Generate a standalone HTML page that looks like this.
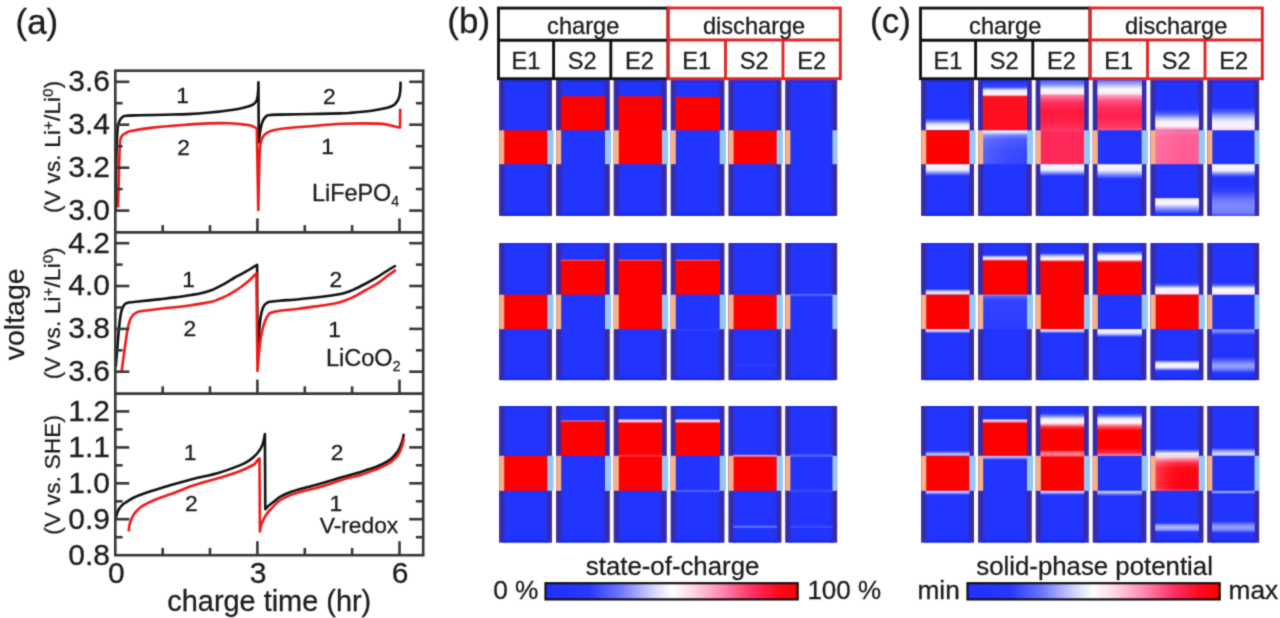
<!DOCTYPE html>
<html><head><meta charset="utf-8"><style>
html,body{margin:0;padding:0;background:#fff;}
svg{display:block;}
text{font-family:"Liberation Sans", sans-serif;fill:#1c1c1c;stroke:#1c1c1c;stroke-width:0.3px;}
</style></head><body>
<svg width="1280" height="618" viewBox="0 0 1280 618">
<defs><filter id="soft" x="0" y="0" width="1280" height="618" filterUnits="userSpaceOnUse" color-interpolation-filters="sRGB"><feConvolveMatrix order="3" kernelMatrix="1 4 1 4 16 4 1 4 1" divisor="36" edgeMode="duplicate"/></filter></defs>
<g filter="url(#soft)">
<rect width="1280" height="618" fill="#fff"/>
<path d="M115.70,210.00 C115.80,201.67 116.00,173.33 116.30,160.00 C116.60,146.67 116.97,136.50 117.50,130.00 C118.03,123.50 118.75,123.08 119.50,121.00 C120.25,118.92 120.92,118.37 122.00,117.50 C123.08,116.63 123.00,116.17 126.00,115.80 C129.00,115.43 133.50,115.48 140.00,115.30 C146.50,115.12 157.05,114.90 165.00,114.70 C172.95,114.50 180.20,114.47 187.70,114.10 C195.20,113.73 202.65,113.18 210.00,112.50 C217.35,111.82 225.73,110.92 231.80,110.00 C237.87,109.08 242.75,107.98 246.40,107.00 C250.05,106.02 252.00,105.18 253.70,104.10 C255.40,103.02 255.92,102.02 256.60,100.50 C257.28,98.98 257.52,97.08 257.80,95.00 C258.08,92.92 258.20,90.12 258.30,88.00 C258.40,85.88 258.38,83.25 258.40,82.30 L258.80,142.50 C258.92,141.42 259.13,138.58 259.50,136.00 C259.87,133.42 260.42,129.58 261.00,127.00 C261.58,124.42 262.25,122.17 263.00,120.50 C263.75,118.83 264.58,117.88 265.50,117.00 C266.42,116.12 266.08,115.60 268.50,115.20 C270.92,114.80 272.80,114.80 280.00,114.60 C287.20,114.40 301.70,114.20 311.70,114.00 C321.70,113.80 333.62,113.58 340.00,113.40 C346.38,113.22 344.70,113.35 350.00,112.90 C355.30,112.45 365.73,111.50 371.80,110.70 C377.87,109.90 382.75,109.02 386.40,108.10 C390.05,107.18 391.88,106.35 393.70,105.20 C395.52,104.05 396.33,102.73 397.30,101.20 C398.27,99.67 399.00,97.87 399.50,96.00 C400.00,94.13 400.12,92.40 400.30,90.00 C400.48,87.60 400.55,83.00 400.60,81.60" fill="none" stroke="#111" stroke-width="2.6" stroke-linejoin="round" stroke-linecap="butt"/>
<path d="M118.00,207.50 C118.10,203.75 118.38,192.92 118.60,185.00 C118.82,177.08 119.07,167.00 119.30,160.00 C119.53,153.00 119.72,146.75 120.00,143.00 C120.28,139.25 120.45,138.92 121.00,137.50 C121.55,136.08 122.47,135.25 123.30,134.50 C124.13,133.75 124.72,133.60 126.00,133.00 C127.28,132.40 126.53,131.80 131.00,130.90 C135.47,130.00 143.70,128.62 152.80,127.60 C161.90,126.58 176.48,125.50 185.60,124.80 C194.72,124.10 200.20,123.65 207.50,123.40 C214.80,123.15 223.02,123.07 229.40,123.30 C235.78,123.53 242.03,124.35 245.80,124.80 C249.57,125.25 250.17,125.38 252.00,126.00 C253.83,126.62 256.00,128.08 256.80,128.50 L258.30,209.90 C258.42,204.08 258.72,185.32 259.00,175.00 C259.28,164.68 259.58,153.83 260.00,148.00 C260.42,142.17 260.92,142.00 261.50,140.00 C262.08,138.00 262.67,137.13 263.50,136.00 C264.33,134.87 265.13,134.08 266.50,133.20 C267.87,132.32 268.47,131.52 271.70,130.70 C274.93,129.88 280.03,129.00 285.90,128.30 C291.77,127.60 297.55,127.25 306.90,126.50 C316.25,125.75 330.28,124.28 342.00,123.80 C353.72,123.32 369.37,123.40 377.20,123.60 C385.03,123.80 386.07,124.52 389.00,125.00 C391.93,125.48 392.97,126.07 394.80,126.50 C396.63,126.93 399.13,127.42 400.00,127.60 L400.20,108.80" fill="none" stroke="#f01818" stroke-width="2.6" stroke-linejoin="round" stroke-linecap="butt"/>
<path d="M115.70,367.00 C115.92,364.50 116.45,358.50 117.00,352.00 C117.55,345.50 118.33,334.50 119.00,328.00 C119.67,321.50 120.25,316.67 121.00,313.00 C121.75,309.33 122.53,307.67 123.50,306.00 C124.47,304.33 124.73,303.70 126.80,303.00 C128.87,302.30 130.28,302.45 135.90,301.80 C141.52,301.15 153.98,299.83 160.50,299.10 C167.02,298.37 169.93,298.08 175.00,297.40 C180.07,296.72 186.57,295.70 190.90,295.00 C195.23,294.30 197.60,293.98 201.00,293.20 C204.40,292.42 208.38,291.37 211.30,290.30 C214.22,289.23 215.97,288.08 218.50,286.80 C221.03,285.52 223.92,284.07 226.50,282.60 C229.08,281.13 231.47,279.45 234.00,278.00 C236.53,276.55 239.12,275.32 241.70,273.90 C244.28,272.48 246.93,271.02 249.50,269.50 C252.07,267.98 255.83,265.58 257.10,264.80 L257.60,354.20 C257.73,352.17 258.08,346.53 258.40,342.00 C258.72,337.47 259.10,331.33 259.50,327.00 C259.90,322.67 260.30,319.00 260.80,316.00 C261.30,313.00 261.88,310.83 262.50,309.00 C263.12,307.17 263.67,306.07 264.50,305.00 C265.33,303.93 266.53,303.13 267.50,302.60 C268.47,302.07 268.22,302.12 270.30,301.80 C272.38,301.48 275.25,301.13 280.00,300.70 C284.75,300.27 292.13,299.82 298.80,299.20 C305.47,298.58 313.53,297.78 320.00,297.00 C326.47,296.22 333.27,295.25 337.60,294.50 C341.93,293.75 343.42,293.27 346.00,292.50 C348.58,291.73 349.93,291.32 353.10,289.90 C356.27,288.48 361.12,286.03 365.00,284.00 C368.88,281.97 372.90,279.78 376.40,277.70 C379.90,275.62 382.77,273.53 386.00,271.50 C389.23,269.47 394.17,266.50 395.80,265.50" fill="none" stroke="#111" stroke-width="2.6" stroke-linejoin="round" stroke-linecap="butt"/>
<path d="M121.70,371.00 C122.17,367.50 123.53,356.83 124.50,350.00 C125.47,343.17 126.58,335.00 127.50,330.00 C128.42,325.00 129.08,322.50 130.00,320.00 C130.92,317.50 132.02,316.18 133.00,315.00 C133.98,313.82 134.70,313.52 135.90,312.90 C137.10,312.28 136.10,311.98 140.20,311.30 C144.30,310.62 154.70,309.48 160.50,308.80 C166.30,308.12 169.93,307.80 175.00,307.20 C180.07,306.60 186.57,305.80 190.90,305.20 C195.23,304.60 197.60,304.17 201.00,303.60 C204.40,303.03 208.38,302.52 211.30,301.80 C214.22,301.08 215.97,300.28 218.50,299.30 C221.03,298.32 223.92,297.18 226.50,295.90 C229.08,294.62 231.47,293.17 234.00,291.60 C236.53,290.03 239.12,288.40 241.70,286.50 C244.28,284.60 247.05,282.38 249.50,280.20 C251.95,278.02 255.25,274.53 256.40,273.40 L257.50,371.00 C257.67,368.83 258.00,363.17 258.50,358.00 C259.00,352.83 259.78,344.95 260.50,340.00 C261.22,335.05 261.97,331.63 262.80,328.30 C263.63,324.97 264.63,322.13 265.50,320.00 C266.37,317.87 267.20,316.67 268.00,315.50 C268.80,314.33 268.30,313.78 270.30,313.00 C272.30,312.22 275.25,311.52 280.00,310.80 C284.75,310.08 292.13,309.55 298.80,308.70 C305.47,307.85 313.97,306.55 320.00,305.70 C326.03,304.85 330.83,304.47 335.00,303.60 C339.17,302.73 341.98,301.58 345.00,300.50 C348.02,299.42 349.77,298.77 353.10,297.10 C356.43,295.43 361.12,292.65 365.00,290.50 C368.88,288.35 372.90,286.45 376.40,284.20 C379.90,281.95 382.77,279.38 386.00,277.00 C389.23,274.62 394.17,271.08 395.80,269.90" fill="none" stroke="#f01818" stroke-width="2.6" stroke-linejoin="round" stroke-linecap="butt"/>
<path d="M115.70,518.50 C115.98,517.45 116.62,514.12 117.40,512.20 C118.18,510.28 119.30,508.45 120.40,507.00 C121.50,505.55 122.88,504.40 124.00,503.50 C125.12,502.60 125.60,502.52 127.10,501.60 C128.60,500.68 130.97,499.07 133.00,498.00 C135.03,496.93 136.23,496.38 139.30,495.20 C142.37,494.02 147.37,492.22 151.40,490.90 C155.43,489.58 159.45,488.50 163.50,487.30 C167.55,486.10 170.63,485.12 175.70,483.70 C180.77,482.28 186.67,480.63 193.90,478.80 C201.13,476.97 211.67,474.85 219.10,472.70 C226.53,470.55 233.85,467.72 238.50,465.90 C243.15,464.08 244.57,463.20 247.00,461.80 C249.43,460.40 251.35,458.97 253.10,457.50 C254.85,456.03 256.20,454.55 257.50,453.00 C258.80,451.45 259.93,450.03 260.90,448.20 C261.87,446.37 262.63,444.35 263.30,442.00 C263.97,439.65 264.63,435.42 264.90,434.10 L265.30,509.30 C265.67,508.88 266.63,507.63 267.50,506.80 C268.37,505.97 269.25,505.30 270.50,504.30 C271.75,503.30 273.42,502.05 275.00,500.80 C276.58,499.55 277.17,498.33 280.00,496.80 C282.83,495.27 287.55,493.18 292.00,491.60 C296.45,490.02 302.03,488.62 306.70,487.30 C311.37,485.98 314.45,485.28 320.00,483.70 C325.55,482.12 335.00,479.27 340.00,477.80 C345.00,476.33 346.67,475.83 350.00,474.90 C353.33,473.97 357.03,473.08 360.00,472.20 C362.97,471.32 364.97,470.55 367.80,469.60 C370.63,468.65 374.03,467.70 377.00,466.50 C379.97,465.30 383.35,463.62 385.60,462.40 C387.85,461.18 389.02,460.38 390.50,459.20 C391.98,458.02 393.33,456.53 394.50,455.30 C395.67,454.07 396.60,453.13 397.50,451.80 C398.40,450.47 399.07,449.25 399.90,447.30 C400.73,445.35 401.83,442.33 402.50,440.10 C403.17,437.87 403.67,434.93 403.90,433.90" fill="none" stroke="#111" stroke-width="2.6" stroke-linejoin="round" stroke-linecap="butt"/>
<path d="M128.70,531.40 C128.82,530.42 129.05,527.28 129.40,525.50 C129.75,523.72 130.20,522.32 130.80,520.70 C131.40,519.08 132.20,517.22 133.00,515.80 C133.80,514.38 134.43,513.53 135.60,512.20 C136.77,510.87 138.38,509.12 140.00,507.80 C141.62,506.48 142.38,505.80 145.30,504.30 C148.22,502.80 152.43,500.82 157.50,498.80 C162.57,496.78 169.63,494.45 175.70,492.20 C181.77,489.95 186.67,487.67 193.90,485.30 C201.13,482.93 211.67,480.27 219.10,478.00 C226.53,475.73 232.83,473.87 238.50,471.70 C244.17,469.53 250.02,466.78 253.10,465.00 C256.18,463.22 255.93,462.10 257.00,461.00 C258.07,459.90 259.08,458.83 259.50,458.40 L259.90,531.40 C260.08,530.42 260.52,527.23 261.00,525.50 C261.48,523.77 261.97,522.75 262.80,521.00 C263.63,519.25 264.72,516.92 266.00,515.00 C267.28,513.08 268.17,511.95 270.50,509.50 C272.83,507.05 276.42,502.78 280.00,500.30 C283.58,497.82 287.55,496.27 292.00,494.60 C296.45,492.93 302.03,491.57 306.70,490.30 C311.37,489.03 314.45,488.63 320.00,487.00 C325.55,485.37 335.00,482.08 340.00,480.50 C345.00,478.92 346.67,478.38 350.00,477.50 C353.33,476.62 357.03,476.05 360.00,475.20 C362.97,474.35 364.97,473.43 367.80,472.40 C370.63,471.37 374.03,470.22 377.00,469.00 C379.97,467.78 383.35,466.23 385.60,465.10 C387.85,463.97 389.02,463.25 390.50,462.20 C391.98,461.15 393.33,459.90 394.50,458.80 C395.67,457.70 396.60,456.78 397.50,455.60 C398.40,454.42 399.12,453.38 399.90,451.70 C400.68,450.02 401.68,447.03 402.20,445.50 C402.72,443.97 402.70,443.68 403.00,442.50 C403.30,441.32 403.83,439.08 404.00,438.40" fill="none" stroke="#f01818" stroke-width="2.6" stroke-linejoin="round" stroke-linecap="butt"/>
<g stroke="#363838" stroke-width="2.6" fill="none">
<rect x="115.3" y="70.7" width="307.9" height="484.5"/>
<line x1="115.3" y1="232.4" x2="423.2" y2="232.4"/>
<line x1="115.3" y1="393.6" x2="423.2" y2="393.6"/>
<line x1="115.3" y1="210.6" x2="129.3" y2="210.6"/>
<line x1="409.2" y1="210.6" x2="423.2" y2="210.6"/>
<line x1="115.3" y1="167.7" x2="129.3" y2="167.7"/>
<line x1="409.2" y1="167.7" x2="423.2" y2="167.7"/>
<line x1="115.3" y1="124.7" x2="129.3" y2="124.7"/>
<line x1="409.2" y1="124.7" x2="423.2" y2="124.7"/>
<line x1="115.3" y1="81.8" x2="129.3" y2="81.8"/>
<line x1="409.2" y1="81.8" x2="423.2" y2="81.8"/>
<line x1="115.3" y1="189.1" x2="122.6" y2="189.1"/>
<line x1="415.9" y1="189.1" x2="423.2" y2="189.1"/>
<line x1="115.3" y1="146.2" x2="122.6" y2="146.2"/>
<line x1="415.9" y1="146.2" x2="423.2" y2="146.2"/>
<line x1="115.3" y1="103.2" x2="122.6" y2="103.2"/>
<line x1="415.9" y1="103.2" x2="423.2" y2="103.2"/>
<line x1="115.3" y1="371.7" x2="129.3" y2="371.7"/>
<line x1="409.2" y1="371.7" x2="423.2" y2="371.7"/>
<line x1="115.3" y1="328.9" x2="129.3" y2="328.9"/>
<line x1="409.2" y1="328.9" x2="423.2" y2="328.9"/>
<line x1="115.3" y1="286.0" x2="129.3" y2="286.0"/>
<line x1="409.2" y1="286.0" x2="423.2" y2="286.0"/>
<line x1="115.3" y1="243.2" x2="129.3" y2="243.2"/>
<line x1="409.2" y1="243.2" x2="423.2" y2="243.2"/>
<line x1="115.3" y1="350.3" x2="122.6" y2="350.3"/>
<line x1="415.9" y1="350.3" x2="423.2" y2="350.3"/>
<line x1="115.3" y1="307.5" x2="122.6" y2="307.5"/>
<line x1="415.9" y1="307.5" x2="423.2" y2="307.5"/>
<line x1="115.3" y1="264.6" x2="122.6" y2="264.6"/>
<line x1="415.9" y1="264.6" x2="423.2" y2="264.6"/>
<line x1="115.3" y1="519.2" x2="129.3" y2="519.2"/>
<line x1="409.2" y1="519.2" x2="423.2" y2="519.2"/>
<line x1="115.3" y1="483.3" x2="129.3" y2="483.3"/>
<line x1="409.2" y1="483.3" x2="423.2" y2="483.3"/>
<line x1="115.3" y1="447.4" x2="129.3" y2="447.4"/>
<line x1="409.2" y1="447.4" x2="423.2" y2="447.4"/>
<line x1="115.3" y1="411.4" x2="129.3" y2="411.4"/>
<line x1="409.2" y1="411.4" x2="423.2" y2="411.4"/>
<line x1="115.3" y1="537.2" x2="122.6" y2="537.2"/>
<line x1="415.9" y1="537.2" x2="423.2" y2="537.2"/>
<line x1="115.3" y1="501.3" x2="122.6" y2="501.3"/>
<line x1="415.9" y1="501.3" x2="423.2" y2="501.3"/>
<line x1="115.3" y1="465.3" x2="122.6" y2="465.3"/>
<line x1="415.9" y1="465.3" x2="423.2" y2="465.3"/>
<line x1="115.3" y1="429.4" x2="122.6" y2="429.4"/>
<line x1="415.9" y1="429.4" x2="423.2" y2="429.4"/>
<line x1="162.7" y1="232.4" x2="162.7" y2="225.1"/>
<line x1="210.0" y1="232.4" x2="210.0" y2="225.1"/>
<line x1="257.4" y1="232.4" x2="257.4" y2="218.4"/>
<line x1="304.8" y1="232.4" x2="304.8" y2="225.1"/>
<line x1="352.1" y1="232.4" x2="352.1" y2="225.1"/>
<line x1="399.5" y1="232.4" x2="399.5" y2="218.4"/>
<line x1="162.7" y1="393.6" x2="162.7" y2="386.3"/>
<line x1="210.0" y1="393.6" x2="210.0" y2="386.3"/>
<line x1="257.4" y1="393.6" x2="257.4" y2="379.6"/>
<line x1="304.8" y1="393.6" x2="304.8" y2="386.3"/>
<line x1="352.1" y1="393.6" x2="352.1" y2="386.3"/>
<line x1="399.5" y1="393.6" x2="399.5" y2="379.6"/>
<line x1="162.7" y1="555.2" x2="162.7" y2="547.9"/>
<line x1="210.0" y1="555.2" x2="210.0" y2="547.9"/>
<line x1="257.4" y1="555.2" x2="257.4" y2="541.2"/>
<line x1="304.8" y1="555.2" x2="304.8" y2="547.9"/>
<line x1="352.1" y1="555.2" x2="352.1" y2="547.9"/>
<line x1="399.5" y1="555.2" x2="399.5" y2="541.2"/>
</g>
<text x="110.0" y="219.9" font-size="30.0" text-anchor="end" >3.0</text>
<text x="110.0" y="177.0" font-size="30.0" text-anchor="end" >3.2</text>
<text x="110.0" y="134.0" font-size="30.0" text-anchor="end" >3.4</text>
<text x="110.0" y="91.1" font-size="30.0" text-anchor="end" >3.6</text>
<text x="110.0" y="381.0" font-size="30.0" text-anchor="end" >3.6</text>
<text x="110.0" y="338.2" font-size="30.0" text-anchor="end" >3.8</text>
<text x="110.0" y="295.3" font-size="30.0" text-anchor="end" >4.0</text>
<text x="110.0" y="252.5" font-size="30.0" text-anchor="end" >4.2</text>
<text x="110.0" y="564.5" font-size="30.0" text-anchor="end" >0.8</text>
<text x="110.0" y="528.5" font-size="30.0" text-anchor="end" >0.9</text>
<text x="110.0" y="492.6" font-size="30.0" text-anchor="end" >1.0</text>
<text x="110.0" y="456.7" font-size="30.0" text-anchor="end" >1.1</text>
<text x="110.0" y="420.7" font-size="30.0" text-anchor="end" >1.2</text>
<text x="116.3" y="583.2" font-size="30.0" text-anchor="middle" >0</text>
<text x="258.0" y="583.2" font-size="30.0" text-anchor="middle" >3</text>
<text x="400.0" y="583.2" font-size="30.0" text-anchor="middle" >6</text>
<text x="167.3" y="610.9" font-size="28.9" text-anchor="start" >charge time (hr)</text>
<text x="15.5" y="34.1" font-size="35.0" text-anchor="start" >(a)</text>
<text x="182.5" y="103.2" font-size="22.8" text-anchor="middle" >1</text>
<text x="183.6" y="154.7" font-size="22.8" text-anchor="middle" >2</text>
<text x="329.3" y="103.6" font-size="22.8" text-anchor="middle" >2</text>
<text x="327.7" y="154.2" font-size="22.8" text-anchor="middle" >1</text>
<text x="188.7" y="286.7" font-size="22.8" text-anchor="middle" >1</text>
<text x="189.9" y="335.9" font-size="22.8" text-anchor="middle" >2</text>
<text x="335.8" y="286.7" font-size="22.8" text-anchor="middle" >2</text>
<text x="334.6" y="336.5" font-size="22.8" text-anchor="middle" >1</text>
<text x="190.2" y="460.0" font-size="22.8" text-anchor="middle" >1</text>
<text x="191.4" y="510.9" font-size="22.8" text-anchor="middle" >2</text>
<text x="337.0" y="459.8" font-size="22.8" text-anchor="middle" >2</text>
<text x="335.8" y="511.0" font-size="22.8" text-anchor="middle" >1</text>
<text x="312.0" y="201.2" font-size="23.4" text-anchor="start" >LiFePO<tspan font-size="14" dy="5.0">4</tspan></text>
<text x="326.0" y="365.8" font-size="23.5" text-anchor="start" >LiCoO<tspan font-size="14" dy="5.0">2</tspan></text>
<text x="319.7" y="532.5" font-size="22.8" text-anchor="start" >V-redox</text>
<text transform="translate(24.2,314.3) rotate(-90)" font-size="28.5" text-anchor="middle">voltage</text>
<text transform="translate(59.5,146.9) rotate(-90)" font-size="22.4" text-anchor="middle" textLength="132.1" lengthAdjust="spacing">(V vs. Li<tspan font-size="14.5" dy="-6.5">+</tspan><tspan dy="6.5">/Li</tspan><tspan font-size="14.5" dy="-6.5">0</tspan><tspan dy="6.5">)</tspan></text>
<text transform="translate(59.5,313.3) rotate(-90)" font-size="22.4" text-anchor="middle" textLength="132.1" lengthAdjust="spacing">(V vs. Li<tspan font-size="14.5" dy="-6.5">+</tspan><tspan dy="6.5">/Li</tspan><tspan font-size="14.5" dy="-6.5">0</tspan><tspan dy="6.5">)</tspan></text>
<text transform="translate(59.5,474.8) rotate(-90)" font-size="22.4" text-anchor="middle" textLength="119.7" lengthAdjust="spacing">(V vs. SHE)</text>
<rect x="499.2" y="80.2" width="52.8" height="135.6" fill="#2234ff"/>
<rect x="499.2" y="80.2" width="7.5" height="135.6" fill="url(#g1)"/>
<rect x="544.5" y="80.2" width="7.5" height="135.6" fill="url(#g2)"/>
<rect x="503.5" y="211.8" width="44.2" height="4.0" fill="url(#g3)"/>
<rect x="503.5" y="80.2" width="44.2" height="3.0" fill="url(#g4)"/>
<rect x="503.8" y="130.3" width="43.8" height="33.9" fill="#ff0000"/>
<rect x="499.2" y="130.3" width="5.0" height="33.9" fill="#f9b189"/>
<rect x="547.4" y="130.3" width="6.2" height="33.9" fill="#98c6f2"/>
<rect x="556.2" y="80.2" width="53.4" height="135.6" fill="#2234ff"/>
<rect x="556.2" y="80.2" width="7.5" height="135.6" fill="url(#g1)"/>
<rect x="602.1" y="80.2" width="7.5" height="135.6" fill="url(#g2)"/>
<rect x="560.5" y="211.8" width="44.8" height="4.0" fill="url(#g5)"/>
<rect x="560.5" y="80.2" width="44.8" height="3.0" fill="url(#g6)"/>
<rect x="560.8" y="96.3" width="44.4" height="34.0" fill="#ff0000"/>
<rect x="556.2" y="130.3" width="5.0" height="33.9" fill="#f9b189"/>
<rect x="605.0" y="130.3" width="6.2" height="33.9" fill="#98c6f2"/>
<rect x="613.8" y="80.2" width="52.8" height="135.6" fill="#2234ff"/>
<rect x="613.8" y="80.2" width="7.5" height="135.6" fill="url(#g1)"/>
<rect x="659.1" y="80.2" width="7.5" height="135.6" fill="url(#g2)"/>
<rect x="618.1" y="211.8" width="44.2" height="4.0" fill="url(#g7)"/>
<rect x="618.1" y="80.2" width="44.2" height="3.0" fill="url(#g8)"/>
<rect x="618.4" y="96.3" width="43.8" height="67.9" fill="#ff0000"/>
<rect x="613.8" y="130.3" width="5.0" height="33.9" fill="#f9b189"/>
<rect x="662.0" y="130.3" width="6.2" height="33.9" fill="#98c6f2"/>
<rect x="670.8" y="80.2" width="53.5" height="135.6" fill="#2234ff"/>
<rect x="670.8" y="80.2" width="7.5" height="135.6" fill="url(#g1)"/>
<rect x="716.8" y="80.2" width="7.5" height="135.6" fill="url(#g2)"/>
<rect x="675.1" y="211.8" width="44.9" height="4.0" fill="url(#g9)"/>
<rect x="675.1" y="80.2" width="44.9" height="3.0" fill="url(#g10)"/>
<rect x="675.4" y="96.8" width="44.5" height="33.5" fill="#ff0000"/>
<rect x="670.8" y="130.3" width="5.0" height="33.9" fill="#f9b189"/>
<rect x="719.7" y="130.3" width="6.2" height="33.9" fill="#98c6f2"/>
<rect x="728.6" y="80.2" width="52.7" height="135.6" fill="#2234ff"/>
<rect x="728.6" y="80.2" width="7.5" height="135.6" fill="url(#g1)"/>
<rect x="773.8" y="80.2" width="7.5" height="135.6" fill="url(#g2)"/>
<rect x="732.9" y="211.8" width="44.1" height="4.0" fill="url(#g11)"/>
<rect x="732.9" y="80.2" width="44.1" height="3.0" fill="url(#g12)"/>
<rect x="733.2" y="130.3" width="43.7" height="33.9" fill="#ff0000"/>
<rect x="728.6" y="130.3" width="5.0" height="33.9" fill="#f9b189"/>
<rect x="776.7" y="130.3" width="6.2" height="33.9" fill="#98c6f2"/>
<rect x="785.4" y="80.2" width="51.7" height="135.6" fill="#2234ff"/>
<rect x="785.4" y="80.2" width="7.5" height="135.6" fill="url(#g1)"/>
<rect x="829.6" y="80.2" width="7.5" height="135.6" fill="url(#g2)"/>
<rect x="789.7" y="211.8" width="43.1" height="4.0" fill="url(#g13)"/>
<rect x="789.7" y="80.2" width="43.1" height="3.0" fill="url(#g14)"/>
<rect x="785.4" y="130.3" width="5.0" height="33.9" fill="#f9b189"/>
<rect x="832.5" y="130.3" width="4.6" height="33.9" fill="#98c6f2"/>
<rect x="499.2" y="243.1" width="52.8" height="137.0" fill="#2234ff"/>
<rect x="499.2" y="243.1" width="7.5" height="137.0" fill="url(#g1)"/>
<rect x="544.5" y="243.1" width="7.5" height="137.0" fill="url(#g2)"/>
<rect x="503.5" y="376.1" width="44.2" height="4.0" fill="url(#g15)"/>
<rect x="503.5" y="243.1" width="44.2" height="3.0" fill="url(#g16)"/>
<rect x="503.8" y="294.7" width="43.8" height="34.5" fill="#ff0000"/>
<rect x="499.2" y="294.7" width="5.0" height="34.5" fill="#f9b189"/>
<rect x="547.4" y="294.7" width="6.2" height="34.5" fill="#98c6f2"/>
<rect x="556.2" y="243.1" width="53.4" height="137.0" fill="#2234ff"/>
<rect x="556.2" y="243.1" width="7.5" height="137.0" fill="url(#g1)"/>
<rect x="602.1" y="243.1" width="7.5" height="137.0" fill="url(#g2)"/>
<rect x="560.5" y="376.1" width="44.8" height="4.0" fill="url(#g17)"/>
<rect x="560.5" y="243.1" width="44.8" height="3.0" fill="url(#g18)"/>
<rect x="560.8" y="259.8" width="44.4" height="34.9" fill="url(#g19)"/>
<rect x="556.2" y="294.7" width="5.0" height="34.5" fill="#f9b189"/>
<rect x="605.0" y="294.7" width="6.2" height="34.5" fill="#98c6f2"/>
<rect x="613.8" y="243.1" width="52.8" height="137.0" fill="#2234ff"/>
<rect x="613.8" y="243.1" width="7.5" height="137.0" fill="url(#g1)"/>
<rect x="659.1" y="243.1" width="7.5" height="137.0" fill="url(#g2)"/>
<rect x="618.1" y="376.1" width="44.2" height="4.0" fill="url(#g20)"/>
<rect x="618.1" y="243.1" width="44.2" height="3.0" fill="url(#g21)"/>
<rect x="618.4" y="259.8" width="43.8" height="69.4" fill="url(#g22)"/>
<rect x="613.8" y="294.7" width="5.0" height="34.5" fill="#f9b189"/>
<rect x="662.0" y="294.7" width="6.2" height="34.5" fill="#98c6f2"/>
<rect x="670.8" y="243.1" width="53.5" height="137.0" fill="#2234ff"/>
<rect x="670.8" y="243.1" width="7.5" height="137.0" fill="url(#g1)"/>
<rect x="716.8" y="243.1" width="7.5" height="137.0" fill="url(#g2)"/>
<rect x="675.1" y="376.1" width="44.9" height="4.0" fill="url(#g23)"/>
<rect x="675.1" y="243.1" width="44.9" height="3.0" fill="url(#g24)"/>
<rect x="675.4" y="259.8" width="44.5" height="34.9" fill="url(#g25)"/>
<rect x="675.4" y="328.7" width="44.5" height="2.0" fill="#3040ff"/>
<rect x="670.8" y="294.7" width="5.0" height="34.5" fill="#f9b189"/>
<rect x="719.7" y="294.7" width="6.2" height="34.5" fill="#98c6f2"/>
<rect x="728.6" y="243.1" width="52.7" height="137.0" fill="#2234ff"/>
<rect x="728.6" y="243.1" width="7.5" height="137.0" fill="url(#g1)"/>
<rect x="773.8" y="243.1" width="7.5" height="137.0" fill="url(#g2)"/>
<rect x="732.9" y="376.1" width="44.1" height="4.0" fill="url(#g26)"/>
<rect x="732.9" y="243.1" width="44.1" height="3.0" fill="url(#g27)"/>
<rect x="733.2" y="294.7" width="43.7" height="34.5" fill="#ff0000"/>
<rect x="733.2" y="364.0" width="43.7" height="2.0" fill="#2a3cff"/>
<rect x="728.6" y="294.7" width="5.0" height="34.5" fill="#f9b189"/>
<rect x="776.7" y="294.7" width="6.2" height="34.5" fill="#98c6f2"/>
<rect x="785.4" y="243.1" width="51.7" height="137.0" fill="#2234ff"/>
<rect x="785.4" y="243.1" width="7.5" height="137.0" fill="url(#g1)"/>
<rect x="829.6" y="243.1" width="7.5" height="137.0" fill="url(#g2)"/>
<rect x="789.7" y="376.1" width="43.1" height="4.0" fill="url(#g28)"/>
<rect x="789.7" y="243.1" width="43.1" height="3.0" fill="url(#g29)"/>
<rect x="790.0" y="293.7" width="42.7" height="2.5" fill="#5060ff"/>
<rect x="785.4" y="294.7" width="5.0" height="34.5" fill="#f9b189"/>
<rect x="832.5" y="294.7" width="4.6" height="34.5" fill="#98c6f2"/>
<rect x="499.2" y="406.0" width="52.8" height="136.5" fill="#2234ff"/>
<rect x="499.2" y="406.0" width="7.5" height="136.5" fill="url(#g1)"/>
<rect x="544.5" y="406.0" width="7.5" height="136.5" fill="url(#g2)"/>
<rect x="503.5" y="538.5" width="44.2" height="4.0" fill="url(#g30)"/>
<rect x="503.5" y="406.0" width="44.2" height="3.0" fill="url(#g31)"/>
<rect x="503.8" y="455.8" width="43.8" height="35.0" fill="#ff0000"/>
<rect x="499.2" y="455.8" width="5.0" height="35.0" fill="#f9b189"/>
<rect x="547.4" y="455.8" width="6.2" height="35.0" fill="#98c6f2"/>
<rect x="556.2" y="406.0" width="53.4" height="136.5" fill="#2234ff"/>
<rect x="556.2" y="406.0" width="7.5" height="136.5" fill="url(#g1)"/>
<rect x="602.1" y="406.0" width="7.5" height="136.5" fill="url(#g2)"/>
<rect x="560.5" y="538.5" width="44.8" height="4.0" fill="url(#g32)"/>
<rect x="560.5" y="406.0" width="44.8" height="3.0" fill="url(#g33)"/>
<rect x="560.8" y="420.5" width="44.4" height="35.3" fill="url(#g34)"/>
<rect x="556.2" y="455.8" width="5.0" height="35.0" fill="#f9b189"/>
<rect x="605.0" y="455.8" width="6.2" height="35.0" fill="#98c6f2"/>
<rect x="613.8" y="406.0" width="52.8" height="136.5" fill="#2234ff"/>
<rect x="613.8" y="406.0" width="7.5" height="136.5" fill="url(#g1)"/>
<rect x="659.1" y="406.0" width="7.5" height="136.5" fill="url(#g2)"/>
<rect x="618.1" y="538.5" width="44.2" height="4.0" fill="url(#g35)"/>
<rect x="618.1" y="406.0" width="44.2" height="3.0" fill="url(#g36)"/>
<rect x="618.4" y="419.5" width="43.8" height="71.3" fill="url(#g37)"/>
<rect x="613.8" y="455.8" width="5.0" height="35.0" fill="#f9b189"/>
<rect x="662.0" y="455.8" width="6.2" height="35.0" fill="#98c6f2"/>
<rect x="670.8" y="406.0" width="53.5" height="136.5" fill="#2234ff"/>
<rect x="670.8" y="406.0" width="7.5" height="136.5" fill="url(#g1)"/>
<rect x="716.8" y="406.0" width="7.5" height="136.5" fill="url(#g2)"/>
<rect x="675.1" y="538.5" width="44.9" height="4.0" fill="url(#g38)"/>
<rect x="675.1" y="406.0" width="44.9" height="3.0" fill="url(#g39)"/>
<rect x="675.4" y="419.5" width="44.5" height="36.3" fill="url(#g40)"/>
<rect x="675.4" y="489.8" width="44.5" height="2.5" fill="#4858ff"/>
<rect x="670.8" y="455.8" width="5.0" height="35.0" fill="#f9b189"/>
<rect x="719.7" y="455.8" width="6.2" height="35.0" fill="#98c6f2"/>
<rect x="728.6" y="406.0" width="52.7" height="136.5" fill="#2234ff"/>
<rect x="728.6" y="406.0" width="7.5" height="136.5" fill="url(#g1)"/>
<rect x="773.8" y="406.0" width="7.5" height="136.5" fill="url(#g2)"/>
<rect x="732.9" y="538.5" width="44.1" height="4.0" fill="url(#g41)"/>
<rect x="732.9" y="406.0" width="44.1" height="3.0" fill="url(#g42)"/>
<rect x="733.2" y="454.8" width="43.7" height="2.0" fill="#ff9090"/>
<rect x="733.2" y="456.8" width="43.7" height="34.0" fill="#ff0000"/>
<rect x="733.2" y="525.5" width="43.7" height="2.5" fill="#5868ff"/>
<rect x="728.6" y="455.8" width="5.0" height="35.0" fill="#f9b189"/>
<rect x="776.7" y="455.8" width="6.2" height="35.0" fill="#98c6f2"/>
<rect x="785.4" y="406.0" width="51.7" height="136.5" fill="#2234ff"/>
<rect x="785.4" y="406.0" width="7.5" height="136.5" fill="url(#g1)"/>
<rect x="829.6" y="406.0" width="7.5" height="136.5" fill="url(#g2)"/>
<rect x="789.7" y="538.5" width="43.1" height="4.0" fill="url(#g43)"/>
<rect x="789.7" y="406.0" width="43.1" height="3.0" fill="url(#g44)"/>
<rect x="790.0" y="454.3" width="42.7" height="2.5" fill="#5060ff"/>
<rect x="790.0" y="489.8" width="42.7" height="2.5" fill="#3848ff"/>
<rect x="790.0" y="525.5" width="42.7" height="2.5" fill="#3848ff"/>
<rect x="785.4" y="455.8" width="5.0" height="35.0" fill="#f9b189"/>
<rect x="832.5" y="455.8" width="4.6" height="35.0" fill="#98c6f2"/>
<g fill="none" stroke-width="2.9">
<rect x="498.5" y="8.1" width="169.5" height="70.6" stroke="#151515"/>
<line x1="498.5" y1="40.2" x2="668.0" y2="40.2" stroke="#111"/>
<line x1="553.6" y1="40.2" x2="553.6" y2="79" stroke="#111"/>
<line x1="610.8" y1="40.2" x2="610.8" y2="79" stroke="#111"/>
<rect x="668.0" y="8.0" width="172.3" height="70.7" stroke="#e22424"/>
<line x1="668.0" y1="40" x2="840.3" y2="40" stroke="#e22424"/>
<line x1="725.5" y1="40" x2="725.5" y2="79" stroke="#e22424"/>
<line x1="783.0" y1="40" x2="783.0" y2="79" stroke="#e22424"/>
</g>
<text x="583.2" y="33.9" font-size="23.6" text-anchor="middle" >charge</text>
<text x="754.1" y="33.9" font-size="23.6" text-anchor="middle" >discharge</text>
<text x="526.0" y="68.8" font-size="23.6" text-anchor="middle" >E1</text>
<text x="582.2" y="68.8" font-size="23.6" text-anchor="middle" >S2</text>
<text x="639.4" y="68.8" font-size="23.6" text-anchor="middle" >E2</text>
<text x="696.8" y="68.8" font-size="23.6" text-anchor="middle" >E1</text>
<text x="754.2" y="68.8" font-size="23.6" text-anchor="middle" >S2</text>
<text x="811.6" y="68.8" font-size="23.6" text-anchor="middle" >E2</text>
<rect x="921.2" y="80.2" width="52.8" height="135.6" fill="#2234ff"/>
<rect x="921.2" y="80.2" width="7.5" height="135.6" fill="url(#g1)"/>
<rect x="966.5" y="80.2" width="7.5" height="135.6" fill="url(#g2)"/>
<rect x="925.5" y="211.8" width="44.2" height="4.0" fill="url(#g45)"/>
<rect x="925.5" y="80.2" width="44.2" height="3.0" fill="url(#g46)"/>
<rect x="925.8" y="112.0" width="43.8" height="18.3" fill="url(#g47)"/>
<rect x="925.8" y="130.3" width="43.8" height="33.9" fill="#ff0000"/>
<rect x="925.8" y="164.2" width="43.8" height="13.8" fill="url(#g48)"/>
<rect x="921.2" y="130.3" width="5.0" height="33.9" fill="#f9b189"/>
<rect x="969.4" y="130.3" width="6.2" height="33.9" fill="#98c6f2"/>
<rect x="978.2" y="80.2" width="53.4" height="135.6" fill="#2234ff"/>
<rect x="978.2" y="80.2" width="7.5" height="135.6" fill="url(#g1)"/>
<rect x="1024.1" y="80.2" width="7.5" height="135.6" fill="url(#g2)"/>
<rect x="982.5" y="211.8" width="44.8" height="4.0" fill="url(#g49)"/>
<rect x="982.5" y="80.2" width="44.8" height="3.0" fill="url(#g50)"/>
<rect x="982.8" y="82.0" width="44.4" height="48.3" fill="url(#g51)"/>
<rect x="982.8" y="130.3" width="44.4" height="33.9" fill="url(#g52)"/>
<rect x="982.8" y="130.3" width="44.4" height="33.9" fill="url(#g53)"/>
<rect x="978.2" y="130.3" width="5.0" height="33.9" fill="#f9b189"/>
<rect x="1027.0" y="130.3" width="6.2" height="33.9" fill="#98c6f2"/>
<rect x="1035.8" y="80.2" width="52.8" height="135.6" fill="#2234ff"/>
<rect x="1035.8" y="80.2" width="7.5" height="135.6" fill="url(#g1)"/>
<rect x="1081.1" y="80.2" width="7.5" height="135.6" fill="url(#g2)"/>
<rect x="1040.1" y="211.8" width="44.2" height="4.0" fill="url(#g54)"/>
<rect x="1040.1" y="80.2" width="44.2" height="3.0" fill="url(#g55)"/>
<rect x="1040.4" y="80.2" width="43.8" height="84.0" fill="url(#g56)"/>
<rect x="1040.4" y="164.2" width="43.8" height="13.8" fill="url(#g57)"/>
<rect x="1035.8" y="130.3" width="5.0" height="33.9" fill="#f9b189"/>
<rect x="1084.0" y="130.3" width="6.2" height="33.9" fill="#98c6f2"/>
<rect x="1092.8" y="80.2" width="53.5" height="135.6" fill="#2234ff"/>
<rect x="1092.8" y="80.2" width="7.5" height="135.6" fill="url(#g1)"/>
<rect x="1138.8" y="80.2" width="7.5" height="135.6" fill="url(#g2)"/>
<rect x="1097.1" y="211.8" width="44.9" height="4.0" fill="url(#g58)"/>
<rect x="1097.1" y="80.2" width="44.9" height="3.0" fill="url(#g59)"/>
<rect x="1097.4" y="80.2" width="44.5" height="50.1" fill="url(#g60)"/>
<rect x="1097.4" y="164.2" width="44.5" height="15.8" fill="url(#g61)"/>
<rect x="1092.8" y="130.3" width="5.0" height="33.9" fill="#f9b189"/>
<rect x="1141.7" y="130.3" width="6.2" height="33.9" fill="#98c6f2"/>
<rect x="1150.6" y="80.2" width="52.7" height="135.6" fill="#2234ff"/>
<rect x="1150.6" y="80.2" width="7.5" height="135.6" fill="url(#g1)"/>
<rect x="1195.8" y="80.2" width="7.5" height="135.6" fill="url(#g2)"/>
<rect x="1154.9" y="211.8" width="44.1" height="4.0" fill="url(#g62)"/>
<rect x="1154.9" y="80.2" width="44.1" height="3.0" fill="url(#g63)"/>
<rect x="1155.2" y="106.0" width="43.7" height="24.3" fill="url(#g64)"/>
<rect x="1155.2" y="130.3" width="43.7" height="33.9" fill="url(#g65)"/>
<rect x="1155.2" y="130.3" width="43.7" height="33.9" fill="url(#g66)"/>
<rect x="1155.2" y="197.5" width="43.7" height="18.3" fill="url(#g67)"/>
<rect x="1150.6" y="130.3" width="5.0" height="33.9" fill="#f9b189"/>
<rect x="1198.7" y="130.3" width="6.2" height="33.9" fill="#98c6f2"/>
<rect x="1207.4" y="80.2" width="51.7" height="135.6" fill="#2234ff"/>
<rect x="1207.4" y="80.2" width="7.5" height="135.6" fill="url(#g1)"/>
<rect x="1251.6" y="80.2" width="7.5" height="135.6" fill="url(#g2)"/>
<rect x="1211.7" y="211.8" width="43.1" height="4.0" fill="url(#g68)"/>
<rect x="1211.7" y="80.2" width="43.1" height="3.0" fill="url(#g69)"/>
<rect x="1212.0" y="104.0" width="42.7" height="26.3" fill="url(#g70)"/>
<rect x="1212.0" y="164.2" width="42.7" height="13.8" fill="url(#g71)"/>
<rect x="1212.0" y="184.0" width="42.7" height="31.8" fill="url(#g72)"/>
<rect x="1207.4" y="130.3" width="5.0" height="33.9" fill="#f9b189"/>
<rect x="1254.5" y="130.3" width="4.6" height="33.9" fill="#98c6f2"/>
<rect x="921.2" y="243.1" width="52.8" height="137.0" fill="#2234ff"/>
<rect x="921.2" y="243.1" width="7.5" height="137.0" fill="url(#g1)"/>
<rect x="966.5" y="243.1" width="7.5" height="137.0" fill="url(#g2)"/>
<rect x="925.5" y="376.1" width="44.2" height="4.0" fill="url(#g73)"/>
<rect x="925.5" y="243.1" width="44.2" height="3.0" fill="url(#g74)"/>
<rect x="925.8" y="289.0" width="43.8" height="5.7" fill="url(#g75)"/>
<rect x="925.8" y="294.7" width="43.8" height="34.5" fill="#ff0000"/>
<rect x="925.8" y="329.2" width="43.8" height="4.3" fill="url(#g76)"/>
<rect x="921.2" y="294.7" width="5.0" height="34.5" fill="#f9b189"/>
<rect x="969.4" y="294.7" width="6.2" height="34.5" fill="#98c6f2"/>
<rect x="978.2" y="243.1" width="53.4" height="137.0" fill="#2234ff"/>
<rect x="978.2" y="243.1" width="7.5" height="137.0" fill="url(#g1)"/>
<rect x="1024.1" y="243.1" width="7.5" height="137.0" fill="url(#g2)"/>
<rect x="982.5" y="376.1" width="44.8" height="4.0" fill="url(#g77)"/>
<rect x="982.5" y="243.1" width="44.8" height="3.0" fill="url(#g78)"/>
<rect x="982.8" y="255.0" width="44.4" height="39.7" fill="url(#g79)"/>
<rect x="982.8" y="294.7" width="44.4" height="34.5" fill="url(#g80)"/>
<rect x="978.2" y="294.7" width="5.0" height="34.5" fill="#f9b189"/>
<rect x="1027.0" y="294.7" width="6.2" height="34.5" fill="#98c6f2"/>
<rect x="1035.8" y="243.1" width="52.8" height="137.0" fill="#2234ff"/>
<rect x="1035.8" y="243.1" width="7.5" height="137.0" fill="url(#g1)"/>
<rect x="1081.1" y="243.1" width="7.5" height="137.0" fill="url(#g2)"/>
<rect x="1040.1" y="376.1" width="44.2" height="4.0" fill="url(#g81)"/>
<rect x="1040.1" y="243.1" width="44.2" height="3.0" fill="url(#g82)"/>
<rect x="1040.4" y="253.0" width="43.8" height="76.2" fill="url(#g83)"/>
<rect x="1040.4" y="329.2" width="43.8" height="4.3" fill="url(#g84)"/>
<rect x="1035.8" y="294.7" width="5.0" height="34.5" fill="#f9b189"/>
<rect x="1084.0" y="294.7" width="6.2" height="34.5" fill="#98c6f2"/>
<rect x="1092.8" y="243.1" width="53.5" height="137.0" fill="#2234ff"/>
<rect x="1092.8" y="243.1" width="7.5" height="137.0" fill="url(#g1)"/>
<rect x="1138.8" y="243.1" width="7.5" height="137.0" fill="url(#g2)"/>
<rect x="1097.1" y="376.1" width="44.9" height="4.0" fill="url(#g85)"/>
<rect x="1097.1" y="243.1" width="44.9" height="3.0" fill="url(#g86)"/>
<rect x="1097.4" y="251.0" width="44.5" height="43.7" fill="url(#g87)"/>
<rect x="1097.4" y="329.2" width="44.5" height="8.8" fill="url(#g88)"/>
<rect x="1092.8" y="294.7" width="5.0" height="34.5" fill="#f9b189"/>
<rect x="1141.7" y="294.7" width="6.2" height="34.5" fill="#98c6f2"/>
<rect x="1150.6" y="243.1" width="52.7" height="137.0" fill="#2234ff"/>
<rect x="1150.6" y="243.1" width="7.5" height="137.0" fill="url(#g1)"/>
<rect x="1195.8" y="243.1" width="7.5" height="137.0" fill="url(#g2)"/>
<rect x="1154.9" y="376.1" width="44.1" height="4.0" fill="url(#g89)"/>
<rect x="1154.9" y="243.1" width="44.1" height="3.0" fill="url(#g90)"/>
<rect x="1155.2" y="283.0" width="43.7" height="11.7" fill="url(#g91)"/>
<rect x="1155.2" y="294.7" width="43.7" height="34.5" fill="#ff0000"/>
<rect x="1155.2" y="360.0" width="43.7" height="11.0" fill="url(#g92)"/>
<rect x="1150.6" y="294.7" width="5.0" height="34.5" fill="#f9b189"/>
<rect x="1198.7" y="294.7" width="6.2" height="34.5" fill="#98c6f2"/>
<rect x="1207.4" y="243.1" width="51.7" height="137.0" fill="#2234ff"/>
<rect x="1207.4" y="243.1" width="7.5" height="137.0" fill="url(#g1)"/>
<rect x="1251.6" y="243.1" width="7.5" height="137.0" fill="url(#g2)"/>
<rect x="1211.7" y="376.1" width="43.1" height="4.0" fill="url(#g93)"/>
<rect x="1211.7" y="243.1" width="43.1" height="3.0" fill="url(#g94)"/>
<rect x="1212.0" y="283.0" width="42.7" height="11.7" fill="url(#g95)"/>
<rect x="1212.0" y="329.2" width="42.7" height="5.8" fill="url(#g96)"/>
<rect x="1212.0" y="357.0" width="42.7" height="16.0" fill="url(#g97)"/>
<rect x="1207.4" y="294.7" width="5.0" height="34.5" fill="#f9b189"/>
<rect x="1254.5" y="294.7" width="4.6" height="34.5" fill="#98c6f2"/>
<rect x="921.2" y="406.0" width="52.8" height="136.5" fill="#2234ff"/>
<rect x="921.2" y="406.0" width="7.5" height="136.5" fill="url(#g1)"/>
<rect x="966.5" y="406.0" width="7.5" height="136.5" fill="url(#g2)"/>
<rect x="925.5" y="538.5" width="44.2" height="4.0" fill="url(#g98)"/>
<rect x="925.5" y="406.0" width="44.2" height="3.0" fill="url(#g99)"/>
<rect x="925.8" y="451.0" width="43.8" height="4.8" fill="url(#g100)"/>
<rect x="925.8" y="455.8" width="43.8" height="35.0" fill="#ff0000"/>
<rect x="925.8" y="490.8" width="43.8" height="4.2" fill="url(#g101)"/>
<rect x="921.2" y="455.8" width="5.0" height="35.0" fill="#f9b189"/>
<rect x="969.4" y="455.8" width="6.2" height="35.0" fill="#98c6f2"/>
<rect x="978.2" y="406.0" width="53.4" height="136.5" fill="#2234ff"/>
<rect x="978.2" y="406.0" width="7.5" height="136.5" fill="url(#g1)"/>
<rect x="1024.1" y="406.0" width="7.5" height="136.5" fill="url(#g2)"/>
<rect x="982.5" y="538.5" width="44.8" height="4.0" fill="url(#g102)"/>
<rect x="982.5" y="406.0" width="44.8" height="3.0" fill="url(#g103)"/>
<rect x="982.8" y="418.5" width="44.4" height="37.3" fill="url(#g104)"/>
<rect x="982.8" y="455.8" width="44.4" height="4.2" fill="url(#g105)"/>
<rect x="978.2" y="455.8" width="5.0" height="35.0" fill="#f9b189"/>
<rect x="1027.0" y="455.8" width="6.2" height="35.0" fill="#98c6f2"/>
<rect x="1035.8" y="406.0" width="52.8" height="136.5" fill="#2234ff"/>
<rect x="1035.8" y="406.0" width="7.5" height="136.5" fill="url(#g1)"/>
<rect x="1081.1" y="406.0" width="7.5" height="136.5" fill="url(#g2)"/>
<rect x="1040.1" y="538.5" width="44.2" height="4.0" fill="url(#g106)"/>
<rect x="1040.1" y="406.0" width="44.2" height="3.0" fill="url(#g107)"/>
<rect x="1040.4" y="413.0" width="43.8" height="77.8" fill="url(#g108)"/>
<rect x="1040.4" y="490.8" width="43.8" height="4.2" fill="url(#g109)"/>
<rect x="1035.8" y="455.8" width="5.0" height="35.0" fill="#f9b189"/>
<rect x="1084.0" y="455.8" width="6.2" height="35.0" fill="#98c6f2"/>
<rect x="1092.8" y="406.0" width="53.5" height="136.5" fill="#2234ff"/>
<rect x="1092.8" y="406.0" width="7.5" height="136.5" fill="url(#g1)"/>
<rect x="1138.8" y="406.0" width="7.5" height="136.5" fill="url(#g2)"/>
<rect x="1097.1" y="538.5" width="44.9" height="4.0" fill="url(#g110)"/>
<rect x="1097.1" y="406.0" width="44.9" height="3.0" fill="url(#g111)"/>
<rect x="1097.4" y="413.0" width="44.5" height="42.8" fill="url(#g112)"/>
<rect x="1097.4" y="490.8" width="44.5" height="5.2" fill="url(#g113)"/>
<rect x="1092.8" y="455.8" width="5.0" height="35.0" fill="#f9b189"/>
<rect x="1141.7" y="455.8" width="6.2" height="35.0" fill="#98c6f2"/>
<rect x="1150.6" y="406.0" width="52.7" height="136.5" fill="#2234ff"/>
<rect x="1150.6" y="406.0" width="7.5" height="136.5" fill="url(#g1)"/>
<rect x="1195.8" y="406.0" width="7.5" height="136.5" fill="url(#g2)"/>
<rect x="1154.9" y="538.5" width="44.1" height="4.0" fill="url(#g114)"/>
<rect x="1154.9" y="406.0" width="44.1" height="3.0" fill="url(#g115)"/>
<rect x="1155.2" y="449.0" width="43.7" height="6.8" fill="url(#g116)"/>
<rect x="1155.2" y="455.8" width="43.7" height="35.0" fill="url(#g117)"/>
<rect x="1155.2" y="455.8" width="43.7" height="35.0" fill="url(#g118)"/>
<rect x="1155.2" y="523.0" width="43.7" height="9.0" fill="url(#g119)"/>
<rect x="1150.6" y="455.8" width="5.0" height="35.0" fill="#f9b189"/>
<rect x="1198.7" y="455.8" width="6.2" height="35.0" fill="#98c6f2"/>
<rect x="1207.4" y="406.0" width="51.7" height="136.5" fill="#2234ff"/>
<rect x="1207.4" y="406.0" width="7.5" height="136.5" fill="url(#g1)"/>
<rect x="1251.6" y="406.0" width="7.5" height="136.5" fill="url(#g2)"/>
<rect x="1211.7" y="538.5" width="43.1" height="4.0" fill="url(#g120)"/>
<rect x="1211.7" y="406.0" width="43.1" height="3.0" fill="url(#g121)"/>
<rect x="1212.0" y="448.0" width="42.7" height="7.8" fill="url(#g122)"/>
<rect x="1212.0" y="490.8" width="42.7" height="3.2" fill="url(#g123)"/>
<rect x="1212.0" y="521.0" width="42.7" height="12.0" fill="url(#g124)"/>
<rect x="1207.4" y="455.8" width="5.0" height="35.0" fill="#f9b189"/>
<rect x="1254.5" y="455.8" width="4.6" height="35.0" fill="#98c6f2"/>
<g fill="none" stroke-width="2.9">
<rect x="920.5" y="8.1" width="169.5" height="70.6" stroke="#151515"/>
<line x1="920.5" y1="40.2" x2="1090.0" y2="40.2" stroke="#111"/>
<line x1="975.6" y1="40.2" x2="975.6" y2="79" stroke="#111"/>
<line x1="1032.8" y1="40.2" x2="1032.8" y2="79" stroke="#111"/>
<rect x="1090.0" y="8.0" width="172.3" height="70.7" stroke="#e22424"/>
<line x1="1090.0" y1="40" x2="1262.3" y2="40" stroke="#e22424"/>
<line x1="1147.5" y1="40" x2="1147.5" y2="79" stroke="#e22424"/>
<line x1="1205.0" y1="40" x2="1205.0" y2="79" stroke="#e22424"/>
</g>
<text x="1005.2" y="33.9" font-size="23.6" text-anchor="middle" >charge</text>
<text x="1176.2" y="33.9" font-size="23.6" text-anchor="middle" >discharge</text>
<text x="948.0" y="68.8" font-size="23.6" text-anchor="middle" >E1</text>
<text x="1004.2" y="68.8" font-size="23.6" text-anchor="middle" >S2</text>
<text x="1061.4" y="68.8" font-size="23.6" text-anchor="middle" >E2</text>
<text x="1118.8" y="68.8" font-size="23.6" text-anchor="middle" >E1</text>
<text x="1176.2" y="68.8" font-size="23.6" text-anchor="middle" >S2</text>
<text x="1233.7" y="68.8" font-size="23.6" text-anchor="middle" >E2</text>
<text x="447.3" y="33.4" font-size="35.0" text-anchor="start" >(b)</text>
<text x="870.1" y="33.4" font-size="35.0" text-anchor="start" >(c)</text>
<rect x="545.5" y="583.2" width="252.2" height="16.2" fill="url(#g125)" stroke="#111" stroke-width="2.2"/>
<rect x="967.5" y="583.2" width="252.2" height="16.2" fill="url(#g125)" stroke="#111" stroke-width="2.2"/>
<text x="672.6" y="574.6" font-size="25.8" text-anchor="middle" >state-of-charge</text>
<text x="1094.6" y="574.6" font-size="25.8" text-anchor="middle" >solid-phase potential</text>
<text x="538.5" y="599.2" font-size="26.3" text-anchor="end" >0 %</text>
<text x="807.4" y="599.4" font-size="26.0" text-anchor="start" >100 %</text>
<text x="959.8" y="599.2" font-size="26.3" text-anchor="end" >min</text>
<text x="1228.5" y="599.2" font-size="26.3" text-anchor="start" >max</text>
<defs><linearGradient id="g1" x1="0" y1="0" x2="1" y2="0"><stop offset="0.0000" stop-color="#42319a"/><stop offset="0.4500" stop-color="#3228ae"/><stop offset="0.7200" stop-color="#2c32d4"/><stop offset="1.0000" stop-color="#2234ff"/></linearGradient><linearGradient id="g2" x1="0" y1="0" x2="1" y2="0"><stop offset="0.0000" stop-color="#2234ff"/><stop offset="0.2800" stop-color="#2c32d4"/><stop offset="0.5500" stop-color="#3228ae"/><stop offset="1.0000" stop-color="#42319a"/></linearGradient><linearGradient id="g3" x1="0" y1="0" x2="0" y2="1"><stop offset="0.0000" stop-color="#2234ff"/><stop offset="1.0000" stop-color="#1226dc"/></linearGradient><linearGradient id="g4" x1="0" y1="0" x2="0" y2="1"><stop offset="0.0000" stop-color="#1a2ce4"/><stop offset="1.0000" stop-color="#2234ff"/></linearGradient><linearGradient id="g5" x1="0" y1="0" x2="0" y2="1"><stop offset="0.0000" stop-color="#2234ff"/><stop offset="1.0000" stop-color="#1226dc"/></linearGradient><linearGradient id="g6" x1="0" y1="0" x2="0" y2="1"><stop offset="0.0000" stop-color="#1a2ce4"/><stop offset="1.0000" stop-color="#2234ff"/></linearGradient><linearGradient id="g7" x1="0" y1="0" x2="0" y2="1"><stop offset="0.0000" stop-color="#2234ff"/><stop offset="1.0000" stop-color="#1226dc"/></linearGradient><linearGradient id="g8" x1="0" y1="0" x2="0" y2="1"><stop offset="0.0000" stop-color="#1a2ce4"/><stop offset="1.0000" stop-color="#2234ff"/></linearGradient><linearGradient id="g9" x1="0" y1="0" x2="0" y2="1"><stop offset="0.0000" stop-color="#2234ff"/><stop offset="1.0000" stop-color="#1226dc"/></linearGradient><linearGradient id="g10" x1="0" y1="0" x2="0" y2="1"><stop offset="0.0000" stop-color="#1a2ce4"/><stop offset="1.0000" stop-color="#2234ff"/></linearGradient><linearGradient id="g11" x1="0" y1="0" x2="0" y2="1"><stop offset="0.0000" stop-color="#2234ff"/><stop offset="1.0000" stop-color="#1226dc"/></linearGradient><linearGradient id="g12" x1="0" y1="0" x2="0" y2="1"><stop offset="0.0000" stop-color="#1a2ce4"/><stop offset="1.0000" stop-color="#2234ff"/></linearGradient><linearGradient id="g13" x1="0" y1="0" x2="0" y2="1"><stop offset="0.0000" stop-color="#2234ff"/><stop offset="1.0000" stop-color="#1226dc"/></linearGradient><linearGradient id="g14" x1="0" y1="0" x2="0" y2="1"><stop offset="0.0000" stop-color="#1a2ce4"/><stop offset="1.0000" stop-color="#2234ff"/></linearGradient><linearGradient id="g15" x1="0" y1="0" x2="0" y2="1"><stop offset="0.0000" stop-color="#2234ff"/><stop offset="1.0000" stop-color="#1226dc"/></linearGradient><linearGradient id="g16" x1="0" y1="0" x2="0" y2="1"><stop offset="0.0000" stop-color="#1a2ce4"/><stop offset="1.0000" stop-color="#2234ff"/></linearGradient><linearGradient id="g17" x1="0" y1="0" x2="0" y2="1"><stop offset="0.0000" stop-color="#2234ff"/><stop offset="1.0000" stop-color="#1226dc"/></linearGradient><linearGradient id="g18" x1="0" y1="0" x2="0" y2="1"><stop offset="0.0000" stop-color="#1a2ce4"/><stop offset="1.0000" stop-color="#2234ff"/></linearGradient><linearGradient id="g19" x1="0" y1="0" x2="0" y2="1"><stop offset="0.0000" stop-color="#ff9090"/><stop offset="0.0401" stop-color="#ff0000"/></linearGradient><linearGradient id="g20" x1="0" y1="0" x2="0" y2="1"><stop offset="0.0000" stop-color="#2234ff"/><stop offset="1.0000" stop-color="#1226dc"/></linearGradient><linearGradient id="g21" x1="0" y1="0" x2="0" y2="1"><stop offset="0.0000" stop-color="#1a2ce4"/><stop offset="1.0000" stop-color="#2234ff"/></linearGradient><linearGradient id="g22" x1="0" y1="0" x2="0" y2="1"><stop offset="0.0000" stop-color="#ff9090"/><stop offset="0.0202" stop-color="#ff0000"/></linearGradient><linearGradient id="g23" x1="0" y1="0" x2="0" y2="1"><stop offset="0.0000" stop-color="#2234ff"/><stop offset="1.0000" stop-color="#1226dc"/></linearGradient><linearGradient id="g24" x1="0" y1="0" x2="0" y2="1"><stop offset="0.0000" stop-color="#1a2ce4"/><stop offset="1.0000" stop-color="#2234ff"/></linearGradient><linearGradient id="g25" x1="0" y1="0" x2="0" y2="1"><stop offset="0.0000" stop-color="#ff9090"/><stop offset="0.0401" stop-color="#ff0000"/></linearGradient><linearGradient id="g26" x1="0" y1="0" x2="0" y2="1"><stop offset="0.0000" stop-color="#2234ff"/><stop offset="1.0000" stop-color="#1226dc"/></linearGradient><linearGradient id="g27" x1="0" y1="0" x2="0" y2="1"><stop offset="0.0000" stop-color="#1a2ce4"/><stop offset="1.0000" stop-color="#2234ff"/></linearGradient><linearGradient id="g28" x1="0" y1="0" x2="0" y2="1"><stop offset="0.0000" stop-color="#2234ff"/><stop offset="1.0000" stop-color="#1226dc"/></linearGradient><linearGradient id="g29" x1="0" y1="0" x2="0" y2="1"><stop offset="0.0000" stop-color="#1a2ce4"/><stop offset="1.0000" stop-color="#2234ff"/></linearGradient><linearGradient id="g30" x1="0" y1="0" x2="0" y2="1"><stop offset="0.0000" stop-color="#2234ff"/><stop offset="1.0000" stop-color="#1226dc"/></linearGradient><linearGradient id="g31" x1="0" y1="0" x2="0" y2="1"><stop offset="0.0000" stop-color="#1a2ce4"/><stop offset="1.0000" stop-color="#2234ff"/></linearGradient><linearGradient id="g32" x1="0" y1="0" x2="0" y2="1"><stop offset="0.0000" stop-color="#2234ff"/><stop offset="1.0000" stop-color="#1226dc"/></linearGradient><linearGradient id="g33" x1="0" y1="0" x2="0" y2="1"><stop offset="0.0000" stop-color="#1a2ce4"/><stop offset="1.0000" stop-color="#2234ff"/></linearGradient><linearGradient id="g34" x1="0" y1="0" x2="0" y2="1"><stop offset="0.0000" stop-color="#ff8080"/><stop offset="0.0567" stop-color="#ff0000"/></linearGradient><linearGradient id="g35" x1="0" y1="0" x2="0" y2="1"><stop offset="0.0000" stop-color="#2234ff"/><stop offset="1.0000" stop-color="#1226dc"/></linearGradient><linearGradient id="g36" x1="0" y1="0" x2="0" y2="1"><stop offset="0.0000" stop-color="#1a2ce4"/><stop offset="1.0000" stop-color="#2234ff"/></linearGradient><linearGradient id="g37" x1="0" y1="0" x2="0" y2="1"><stop offset="0.0000" stop-color="#f0e0ff"/><stop offset="0.0281" stop-color="#ffc0c0"/><stop offset="0.0561" stop-color="#ff0000"/><stop offset="0.4881" stop-color="#ff0000"/><stop offset="0.5091" stop-color="#ff4050"/><stop offset="0.5302" stop-color="#ff0000"/></linearGradient><linearGradient id="g38" x1="0" y1="0" x2="0" y2="1"><stop offset="0.0000" stop-color="#2234ff"/><stop offset="1.0000" stop-color="#1226dc"/></linearGradient><linearGradient id="g39" x1="0" y1="0" x2="0" y2="1"><stop offset="0.0000" stop-color="#1a2ce4"/><stop offset="1.0000" stop-color="#2234ff"/></linearGradient><linearGradient id="g40" x1="0" y1="0" x2="0" y2="1"><stop offset="0.0000" stop-color="#f0e0ff"/><stop offset="0.0551" stop-color="#ffc0c0"/><stop offset="0.1102" stop-color="#ff0000"/></linearGradient><linearGradient id="g41" x1="0" y1="0" x2="0" y2="1"><stop offset="0.0000" stop-color="#2234ff"/><stop offset="1.0000" stop-color="#1226dc"/></linearGradient><linearGradient id="g42" x1="0" y1="0" x2="0" y2="1"><stop offset="0.0000" stop-color="#1a2ce4"/><stop offset="1.0000" stop-color="#2234ff"/></linearGradient><linearGradient id="g43" x1="0" y1="0" x2="0" y2="1"><stop offset="0.0000" stop-color="#2234ff"/><stop offset="1.0000" stop-color="#1226dc"/></linearGradient><linearGradient id="g44" x1="0" y1="0" x2="0" y2="1"><stop offset="0.0000" stop-color="#1a2ce4"/><stop offset="1.0000" stop-color="#2234ff"/></linearGradient><linearGradient id="g45" x1="0" y1="0" x2="0" y2="1"><stop offset="0.0000" stop-color="#2234ff"/><stop offset="1.0000" stop-color="#1226dc"/></linearGradient><linearGradient id="g46" x1="0" y1="0" x2="0" y2="1"><stop offset="0.0000" stop-color="#1a2ce4"/><stop offset="1.0000" stop-color="#2234ff"/></linearGradient><linearGradient id="g47" x1="0" y1="0" x2="0" y2="1"><stop offset="0.0000" stop-color="#2234ff"/><stop offset="0.3279" stop-color="#2234ff"/><stop offset="0.4918" stop-color="#6070ff"/><stop offset="0.6284" stop-color="#c0c4ff"/><stop offset="0.7104" stop-color="#f0f0ff"/><stop offset="0.9290" stop-color="#fbf4ff"/><stop offset="1.0000" stop-color="#ffd0dc"/></linearGradient><linearGradient id="g48" x1="0" y1="0" x2="0" y2="1"><stop offset="0.0000" stop-color="#ffe0ea"/><stop offset="0.0797" stop-color="#f8f4ff"/><stop offset="0.3841" stop-color="#f0f0ff"/><stop offset="0.5290" stop-color="#b8c0ff"/><stop offset="0.7101" stop-color="#6070ff"/><stop offset="0.8551" stop-color="#2234ff"/><stop offset="1.0000" stop-color="#2234ff"/></linearGradient><linearGradient id="g49" x1="0" y1="0" x2="0" y2="1"><stop offset="0.0000" stop-color="#2234ff"/><stop offset="1.0000" stop-color="#1226dc"/></linearGradient><linearGradient id="g50" x1="0" y1="0" x2="0" y2="1"><stop offset="0.0000" stop-color="#1a2ce4"/><stop offset="1.0000" stop-color="#2234ff"/></linearGradient><linearGradient id="g51" x1="0" y1="0" x2="0" y2="1"><stop offset="0.0000" stop-color="#2234ff"/><stop offset="0.1035" stop-color="#3848ff"/><stop offset="0.1449" stop-color="#a0a8ff"/><stop offset="0.1760" stop-color="#eeeeff"/><stop offset="0.2692" stop-color="#fff4f8"/><stop offset="0.2899" stop-color="#ff4050"/><stop offset="0.3106" stop-color="#ff1020"/><stop offset="1.0000" stop-color="#ff1020"/></linearGradient><linearGradient id="g52" x1="0" y1="0" x2="0" y2="1"><stop offset="0.0000" stop-color="#f4e8ff"/><stop offset="0.0649" stop-color="#d8dcff"/><stop offset="0.1386" stop-color="#7888ff"/><stop offset="0.2566" stop-color="#4858ff"/><stop offset="0.5811" stop-color="#3848ff"/><stop offset="1.0000" stop-color="#3242ff"/></linearGradient><linearGradient id="g53" x1="0" y1="0" x2="1" y2="0"><stop offset="0.0000" stop-color="#ffffff" stop-opacity="0.15"/><stop offset="0.5000" stop-color="#ffffff" stop-opacity="0.04"/><stop offset="1.0000" stop-color="#ffffff" stop-opacity="0"/></linearGradient><linearGradient id="g54" x1="0" y1="0" x2="0" y2="1"><stop offset="0.0000" stop-color="#2234ff"/><stop offset="1.0000" stop-color="#1226dc"/></linearGradient><linearGradient id="g55" x1="0" y1="0" x2="0" y2="1"><stop offset="0.0000" stop-color="#1a2ce4"/><stop offset="1.0000" stop-color="#2234ff"/></linearGradient><linearGradient id="g56" x1="0" y1="0" x2="0" y2="1"><stop offset="0.0000" stop-color="#5060ff"/><stop offset="0.0452" stop-color="#7080ff"/><stop offset="0.0893" stop-color="#d0d4ff"/><stop offset="0.1131" stop-color="#f8f4ff"/><stop offset="0.1583" stop-color="#fff0f4"/><stop offset="0.1821" stop-color="#ff80a0"/><stop offset="0.2631" stop-color="#ff3060"/><stop offset="0.3786" stop-color="#ff1838"/><stop offset="0.4940" stop-color="#ff2048"/><stop offset="0.5750" stop-color="#ff3060"/><stop offset="0.5964" stop-color="#ff3868"/><stop offset="0.6167" stop-color="#ff2858"/><stop offset="1.0000" stop-color="#ff2a5a"/></linearGradient><linearGradient id="g57" x1="0" y1="0" x2="0" y2="1"><stop offset="0.0000" stop-color="#ffe0ea"/><stop offset="0.0797" stop-color="#f8f4ff"/><stop offset="0.3841" stop-color="#f0f0ff"/><stop offset="0.5290" stop-color="#b8c0ff"/><stop offset="0.7101" stop-color="#6070ff"/><stop offset="0.8551" stop-color="#2234ff"/><stop offset="1.0000" stop-color="#2234ff"/></linearGradient><linearGradient id="g58" x1="0" y1="0" x2="0" y2="1"><stop offset="0.0000" stop-color="#2234ff"/><stop offset="1.0000" stop-color="#1226dc"/></linearGradient><linearGradient id="g59" x1="0" y1="0" x2="0" y2="1"><stop offset="0.0000" stop-color="#1a2ce4"/><stop offset="1.0000" stop-color="#2234ff"/></linearGradient><linearGradient id="g60" x1="0" y1="0" x2="0" y2="1"><stop offset="0.0000" stop-color="#6070ff"/><stop offset="0.0758" stop-color="#a0a8ff"/><stop offset="0.1457" stop-color="#e0e0ff"/><stop offset="0.1756" stop-color="#f8f4ff"/><stop offset="0.2555" stop-color="#fff0f4"/><stop offset="0.3154" stop-color="#ff98b8"/><stop offset="0.4152" stop-color="#ff5080"/><stop offset="0.5549" stop-color="#ff2c5c"/><stop offset="0.7146" stop-color="#ff2050"/><stop offset="0.8343" stop-color="#ff2c5c"/><stop offset="0.9341" stop-color="#ff3868"/><stop offset="1.0000" stop-color="#ff5888"/></linearGradient><linearGradient id="g61" x1="0" y1="0" x2="0" y2="1"><stop offset="0.0000" stop-color="#ffe0ea"/><stop offset="0.0696" stop-color="#f8f4ff"/><stop offset="0.3671" stop-color="#f0f0ff"/><stop offset="0.5253" stop-color="#b8c0ff"/><stop offset="0.7468" stop-color="#6070ff"/><stop offset="0.9367" stop-color="#2234ff"/><stop offset="1.0000" stop-color="#2234ff"/></linearGradient><linearGradient id="g62" x1="0" y1="0" x2="0" y2="1"><stop offset="0.0000" stop-color="#2234ff"/><stop offset="1.0000" stop-color="#1226dc"/></linearGradient><linearGradient id="g63" x1="0" y1="0" x2="0" y2="1"><stop offset="0.0000" stop-color="#1a2ce4"/><stop offset="1.0000" stop-color="#2234ff"/></linearGradient><linearGradient id="g64" x1="0" y1="0" x2="0" y2="1"><stop offset="0.0000" stop-color="#2234ff"/><stop offset="0.1399" stop-color="#2234ff"/><stop offset="0.3292" stop-color="#5060ff"/><stop offset="0.4856" stop-color="#b0b8ff"/><stop offset="0.6420" stop-color="#f0f0ff"/><stop offset="0.8313" stop-color="#fff4f8"/><stop offset="0.9095" stop-color="#ffb0c8"/><stop offset="1.0000" stop-color="#ff80b0"/></linearGradient><linearGradient id="g65" x1="0" y1="0" x2="0" y2="1"><stop offset="0.0000" stop-color="#ff78a8"/><stop offset="0.1770" stop-color="#ff6098"/><stop offset="1.0000" stop-color="#ff5a94"/></linearGradient><linearGradient id="g66" x1="0" y1="0" x2="1" y2="0"><stop offset="0.0000" stop-color="#ffffff" stop-opacity="0.12"/><stop offset="0.6000" stop-color="#ffffff" stop-opacity="0"/><stop offset="1.0000" stop-color="#ffffff" stop-opacity="0"/></linearGradient><linearGradient id="g67" x1="0" y1="0" x2="0" y2="1"><stop offset="0.0000" stop-color="#2234ff"/><stop offset="0.0710" stop-color="#f4f0ff"/><stop offset="0.3552" stop-color="#f8f4ff"/><stop offset="0.4645" stop-color="#c8c8ff"/><stop offset="0.6284" stop-color="#8090ff"/><stop offset="0.8197" stop-color="#4050ff"/><stop offset="0.9016" stop-color="#2234ff"/><stop offset="1.0000" stop-color="#2830f0"/></linearGradient><linearGradient id="g68" x1="0" y1="0" x2="0" y2="1"><stop offset="0.0000" stop-color="#2234ff"/><stop offset="1.0000" stop-color="#1226dc"/></linearGradient><linearGradient id="g69" x1="0" y1="0" x2="0" y2="1"><stop offset="0.0000" stop-color="#1a2ce4"/><stop offset="1.0000" stop-color="#2234ff"/></linearGradient><linearGradient id="g70" x1="0" y1="0" x2="0" y2="1"><stop offset="0.0000" stop-color="#2234ff"/><stop offset="0.1331" stop-color="#2234ff"/><stop offset="0.3042" stop-color="#5060ff"/><stop offset="0.4905" stop-color="#b0b8ff"/><stop offset="0.6692" stop-color="#f0f0ff"/><stop offset="0.8821" stop-color="#fff0f6"/><stop offset="0.9430" stop-color="#ffd8e4"/><stop offset="1.0000" stop-color="#e0e0ff"/></linearGradient><linearGradient id="g71" x1="0" y1="0" x2="0" y2="1"><stop offset="0.0000" stop-color="#f4f0ff"/><stop offset="0.1014" stop-color="#f8f4ff"/><stop offset="0.4420" stop-color="#f0f0ff"/><stop offset="0.6014" stop-color="#a8b0ff"/><stop offset="0.8551" stop-color="#3848ff"/><stop offset="1.0000" stop-color="#2234ff"/></linearGradient><linearGradient id="g72" x1="0" y1="0" x2="0" y2="1"><stop offset="0.0000" stop-color="#2234ff"/><stop offset="0.2201" stop-color="#3040ff"/><stop offset="0.5031" stop-color="#7078ff"/><stop offset="0.6918" stop-color="#8088ff"/><stop offset="0.8805" stop-color="#7880ff"/><stop offset="1.0000" stop-color="#5058ff"/></linearGradient><linearGradient id="g73" x1="0" y1="0" x2="0" y2="1"><stop offset="0.0000" stop-color="#2234ff"/><stop offset="1.0000" stop-color="#1226dc"/></linearGradient><linearGradient id="g74" x1="0" y1="0" x2="0" y2="1"><stop offset="0.0000" stop-color="#1a2ce4"/><stop offset="1.0000" stop-color="#2234ff"/></linearGradient><linearGradient id="g75" x1="0" y1="0" x2="0" y2="1"><stop offset="0.0000" stop-color="#2234ff"/><stop offset="0.3509" stop-color="#b8bcff"/><stop offset="0.6140" stop-color="#e4e4ff"/><stop offset="1.0000" stop-color="#ffd0e0"/></linearGradient><linearGradient id="g76" x1="0" y1="0" x2="0" y2="1"><stop offset="0.0000" stop-color="#f0e0ff"/><stop offset="0.3721" stop-color="#d8d8ff"/><stop offset="1.0000" stop-color="#2234ff"/></linearGradient><linearGradient id="g77" x1="0" y1="0" x2="0" y2="1"><stop offset="0.0000" stop-color="#2234ff"/><stop offset="1.0000" stop-color="#1226dc"/></linearGradient><linearGradient id="g78" x1="0" y1="0" x2="0" y2="1"><stop offset="0.0000" stop-color="#1a2ce4"/><stop offset="1.0000" stop-color="#2234ff"/></linearGradient><linearGradient id="g79" x1="0" y1="0" x2="0" y2="1"><stop offset="0.0000" stop-color="#2234ff"/><stop offset="0.0504" stop-color="#c8ccff"/><stop offset="0.0882" stop-color="#f4f0ff"/><stop offset="0.1259" stop-color="#ff8090"/><stop offset="0.1562" stop-color="#ff0000"/><stop offset="1.0000" stop-color="#ff0000"/></linearGradient><linearGradient id="g80" x1="0" y1="0" x2="0" y2="1"><stop offset="0.0000" stop-color="#9098ff"/><stop offset="0.0580" stop-color="#5060ff"/><stop offset="0.1739" stop-color="#3242ff"/><stop offset="1.0000" stop-color="#2c3cff"/></linearGradient><linearGradient id="g81" x1="0" y1="0" x2="0" y2="1"><stop offset="0.0000" stop-color="#2234ff"/><stop offset="1.0000" stop-color="#1226dc"/></linearGradient><linearGradient id="g82" x1="0" y1="0" x2="0" y2="1"><stop offset="0.0000" stop-color="#1a2ce4"/><stop offset="1.0000" stop-color="#2234ff"/></linearGradient><linearGradient id="g83" x1="0" y1="0" x2="0" y2="1"><stop offset="0.0000" stop-color="#2234ff"/><stop offset="0.0328" stop-color="#a0a8ff"/><stop offset="0.0591" stop-color="#eeeeff"/><stop offset="0.0853" stop-color="#fff0f4"/><stop offset="0.1024" stop-color="#ff6070"/><stop offset="0.1181" stop-color="#ff0000"/><stop offset="1.0000" stop-color="#ff0000"/></linearGradient><linearGradient id="g84" x1="0" y1="0" x2="0" y2="1"><stop offset="0.0000" stop-color="#f0e0ff"/><stop offset="0.3721" stop-color="#d8d8ff"/><stop offset="1.0000" stop-color="#2234ff"/></linearGradient><linearGradient id="g85" x1="0" y1="0" x2="0" y2="1"><stop offset="0.0000" stop-color="#2234ff"/><stop offset="1.0000" stop-color="#1226dc"/></linearGradient><linearGradient id="g86" x1="0" y1="0" x2="0" y2="1"><stop offset="0.0000" stop-color="#1a2ce4"/><stop offset="1.0000" stop-color="#2234ff"/></linearGradient><linearGradient id="g87" x1="0" y1="0" x2="0" y2="1"><stop offset="0.0000" stop-color="#2234ff"/><stop offset="0.0572" stop-color="#8090ff"/><stop offset="0.1030" stop-color="#e8e8ff"/><stop offset="0.1487" stop-color="#f8f4ff"/><stop offset="0.2014" stop-color="#fff0f4"/><stop offset="0.2357" stop-color="#ff4050"/><stop offset="0.2746" stop-color="#ff0000"/><stop offset="1.0000" stop-color="#ff0000"/></linearGradient><linearGradient id="g88" x1="0" y1="0" x2="0" y2="1"><stop offset="0.0000" stop-color="#fff0f8"/><stop offset="0.1477" stop-color="#f8f4ff"/><stop offset="0.4318" stop-color="#e8e8ff"/><stop offset="0.6591" stop-color="#8898ff"/><stop offset="0.8864" stop-color="#2234ff"/><stop offset="1.0000" stop-color="#2234ff"/></linearGradient><linearGradient id="g89" x1="0" y1="0" x2="0" y2="1"><stop offset="0.0000" stop-color="#2234ff"/><stop offset="1.0000" stop-color="#1226dc"/></linearGradient><linearGradient id="g90" x1="0" y1="0" x2="0" y2="1"><stop offset="0.0000" stop-color="#1a2ce4"/><stop offset="1.0000" stop-color="#2234ff"/></linearGradient><linearGradient id="g91" x1="0" y1="0" x2="0" y2="1"><stop offset="0.0000" stop-color="#2234ff"/><stop offset="0.2137" stop-color="#6070ff"/><stop offset="0.3846" stop-color="#d0d4ff"/><stop offset="0.5128" stop-color="#f8f4ff"/><stop offset="0.8120" stop-color="#fff0f4"/><stop offset="1.0000" stop-color="#ffd0e0"/></linearGradient><linearGradient id="g92" x1="0" y1="0" x2="0" y2="1"><stop offset="0.0000" stop-color="#2234ff"/><stop offset="0.1818" stop-color="#a0a8ff"/><stop offset="0.3182" stop-color="#f0eaff"/><stop offset="0.5455" stop-color="#f8f4ff"/><stop offset="0.6818" stop-color="#e8e4ff"/><stop offset="0.8182" stop-color="#9098ff"/><stop offset="1.0000" stop-color="#2234ff"/></linearGradient><linearGradient id="g93" x1="0" y1="0" x2="0" y2="1"><stop offset="0.0000" stop-color="#2234ff"/><stop offset="1.0000" stop-color="#1226dc"/></linearGradient><linearGradient id="g94" x1="0" y1="0" x2="0" y2="1"><stop offset="0.0000" stop-color="#1a2ce4"/><stop offset="1.0000" stop-color="#2234ff"/></linearGradient><linearGradient id="g95" x1="0" y1="0" x2="0" y2="1"><stop offset="0.0000" stop-color="#2234ff"/><stop offset="0.2137" stop-color="#6070ff"/><stop offset="0.3846" stop-color="#d0d4ff"/><stop offset="0.5128" stop-color="#f8f4ff"/><stop offset="0.8120" stop-color="#fff0f4"/><stop offset="1.0000" stop-color="#f0e0ff"/></linearGradient><linearGradient id="g96" x1="0" y1="0" x2="0" y2="1"><stop offset="0.0000" stop-color="#7080ff"/><stop offset="0.2759" stop-color="#8898ff"/><stop offset="1.0000" stop-color="#2234ff"/></linearGradient><linearGradient id="g97" x1="0" y1="0" x2="0" y2="1"><stop offset="0.0000" stop-color="#2234ff"/><stop offset="0.2500" stop-color="#5868ff"/><stop offset="0.4375" stop-color="#8898ff"/><stop offset="0.6250" stop-color="#90a0ff"/><stop offset="0.8125" stop-color="#6070ff"/><stop offset="1.0000" stop-color="#2234ff"/></linearGradient><linearGradient id="g98" x1="0" y1="0" x2="0" y2="1"><stop offset="0.0000" stop-color="#2234ff"/><stop offset="1.0000" stop-color="#1226dc"/></linearGradient><linearGradient id="g99" x1="0" y1="0" x2="0" y2="1"><stop offset="0.0000" stop-color="#1a2ce4"/><stop offset="1.0000" stop-color="#2234ff"/></linearGradient><linearGradient id="g100" x1="0" y1="0" x2="0" y2="1"><stop offset="0.0000" stop-color="#2234ff"/><stop offset="0.5208" stop-color="#a8b0ff"/><stop offset="1.0000" stop-color="#c8ccff"/></linearGradient><linearGradient id="g101" x1="0" y1="0" x2="0" y2="1"><stop offset="0.0000" stop-color="#d0d0ff"/><stop offset="0.4048" stop-color="#a8b0ff"/><stop offset="1.0000" stop-color="#2234ff"/></linearGradient><linearGradient id="g102" x1="0" y1="0" x2="0" y2="1"><stop offset="0.0000" stop-color="#2234ff"/><stop offset="1.0000" stop-color="#1226dc"/></linearGradient><linearGradient id="g103" x1="0" y1="0" x2="0" y2="1"><stop offset="0.0000" stop-color="#1a2ce4"/><stop offset="1.0000" stop-color="#2234ff"/></linearGradient><linearGradient id="g104" x1="0" y1="0" x2="0" y2="1"><stop offset="0.0000" stop-color="#2234ff"/><stop offset="0.0536" stop-color="#ffd0e0"/><stop offset="0.0938" stop-color="#ff8090"/><stop offset="0.1340" stop-color="#ff0000"/><stop offset="1.0000" stop-color="#ff0000"/></linearGradient><linearGradient id="g105" x1="0" y1="0" x2="0" y2="1"><stop offset="0.0000" stop-color="#c0c4ff"/><stop offset="0.4048" stop-color="#a0a8ff"/><stop offset="1.0000" stop-color="#2234ff"/></linearGradient><linearGradient id="g106" x1="0" y1="0" x2="0" y2="1"><stop offset="0.0000" stop-color="#2234ff"/><stop offset="1.0000" stop-color="#1226dc"/></linearGradient><linearGradient id="g107" x1="0" y1="0" x2="0" y2="1"><stop offset="0.0000" stop-color="#1a2ce4"/><stop offset="1.0000" stop-color="#2234ff"/></linearGradient><linearGradient id="g108" x1="0" y1="0" x2="0" y2="1"><stop offset="0.0000" stop-color="#2234ff"/><stop offset="0.0386" stop-color="#7080ff"/><stop offset="0.0707" stop-color="#e0e0ff"/><stop offset="0.0900" stop-color="#f8f4ff"/><stop offset="0.1285" stop-color="#fff4f8"/><stop offset="0.1542" stop-color="#ff8898"/><stop offset="0.1864" stop-color="#ff2030"/><stop offset="0.2185" stop-color="#ff0000"/><stop offset="0.4756" stop-color="#ff0000"/><stop offset="0.5077" stop-color="#ff6878"/><stop offset="0.5398" stop-color="#ff8898"/><stop offset="0.5720" stop-color="#ff0000"/><stop offset="1.0000" stop-color="#ff0000"/></linearGradient><linearGradient id="g109" x1="0" y1="0" x2="0" y2="1"><stop offset="0.0000" stop-color="#d0d0ff"/><stop offset="0.4048" stop-color="#b0b8ff"/><stop offset="1.0000" stop-color="#2234ff"/></linearGradient><linearGradient id="g110" x1="0" y1="0" x2="0" y2="1"><stop offset="0.0000" stop-color="#2234ff"/><stop offset="1.0000" stop-color="#1226dc"/></linearGradient><linearGradient id="g111" x1="0" y1="0" x2="0" y2="1"><stop offset="0.0000" stop-color="#1a2ce4"/><stop offset="1.0000" stop-color="#2234ff"/></linearGradient><linearGradient id="g112" x1="0" y1="0" x2="0" y2="1"><stop offset="0.0000" stop-color="#2234ff"/><stop offset="0.0701" stop-color="#7080ff"/><stop offset="0.1285" stop-color="#e0e0ff"/><stop offset="0.1636" stop-color="#f8f4ff"/><stop offset="0.2336" stop-color="#fff4f8"/><stop offset="0.2804" stop-color="#ff90a0"/><stop offset="0.3505" stop-color="#ff3040"/><stop offset="0.4206" stop-color="#ff0000"/><stop offset="0.8178" stop-color="#ff0000"/><stop offset="0.9112" stop-color="#ff2040"/><stop offset="1.0000" stop-color="#ff90a8"/></linearGradient><linearGradient id="g113" x1="0" y1="0" x2="0" y2="1"><stop offset="0.0000" stop-color="#c8ccff"/><stop offset="0.3269" stop-color="#b0b8ff"/><stop offset="1.0000" stop-color="#2234ff"/></linearGradient><linearGradient id="g114" x1="0" y1="0" x2="0" y2="1"><stop offset="0.0000" stop-color="#2234ff"/><stop offset="1.0000" stop-color="#1226dc"/></linearGradient><linearGradient id="g115" x1="0" y1="0" x2="0" y2="1"><stop offset="0.0000" stop-color="#1a2ce4"/><stop offset="1.0000" stop-color="#2234ff"/></linearGradient><linearGradient id="g116" x1="0" y1="0" x2="0" y2="1"><stop offset="0.0000" stop-color="#2234ff"/><stop offset="0.3676" stop-color="#8898ff"/><stop offset="0.6618" stop-color="#f0f0ff"/><stop offset="1.0000" stop-color="#fff0f4"/></linearGradient><linearGradient id="g117" x1="0" y1="0" x2="0" y2="1"><stop offset="0.0000" stop-color="#fff0f4"/><stop offset="0.0714" stop-color="#ffa0b8"/><stop offset="0.2000" stop-color="#ff3050"/><stop offset="0.3429" stop-color="#ff0818"/><stop offset="0.9143" stop-color="#ff0010"/><stop offset="1.0000" stop-color="#ff3050"/></linearGradient><linearGradient id="g118" x1="0" y1="0" x2="1" y2="0"><stop offset="0.0000" stop-color="#ffffff" stop-opacity="0.22"/><stop offset="0.3000" stop-color="#ffffff" stop-opacity="0.06"/><stop offset="0.5500" stop-color="#ffffff" stop-opacity="0"/><stop offset="1.0000" stop-color="#ffffff" stop-opacity="0"/></linearGradient><linearGradient id="g119" x1="0" y1="0" x2="0" y2="1"><stop offset="0.0000" stop-color="#2234ff"/><stop offset="0.2222" stop-color="#8898ff"/><stop offset="0.5000" stop-color="#b0b8ff"/><stop offset="0.7778" stop-color="#8898ff"/><stop offset="1.0000" stop-color="#2234ff"/></linearGradient><linearGradient id="g120" x1="0" y1="0" x2="0" y2="1"><stop offset="0.0000" stop-color="#2234ff"/><stop offset="1.0000" stop-color="#1226dc"/></linearGradient><linearGradient id="g121" x1="0" y1="0" x2="0" y2="1"><stop offset="0.0000" stop-color="#1a2ce4"/><stop offset="1.0000" stop-color="#2234ff"/></linearGradient><linearGradient id="g122" x1="0" y1="0" x2="0" y2="1"><stop offset="0.0000" stop-color="#2234ff"/><stop offset="0.3205" stop-color="#8090ff"/><stop offset="0.6410" stop-color="#c8ccff"/><stop offset="0.8974" stop-color="#d0d4ff"/><stop offset="1.0000" stop-color="#a8b0ff"/></linearGradient><linearGradient id="g123" x1="0" y1="0" x2="0" y2="1"><stop offset="0.0000" stop-color="#8898ff"/><stop offset="0.4688" stop-color="#90a0ff"/><stop offset="1.0000" stop-color="#2234ff"/></linearGradient><linearGradient id="g124" x1="0" y1="0" x2="0" y2="1"><stop offset="0.0000" stop-color="#2234ff"/><stop offset="0.2500" stop-color="#6878ff"/><stop offset="0.5000" stop-color="#98a0ff"/><stop offset="0.7500" stop-color="#7888ff"/><stop offset="1.0000" stop-color="#2234ff"/></linearGradient><linearGradient id="g125" x1="0" y1="0" x2="1" y2="0"><stop offset="0.0000" stop-color="#2030ff"/><stop offset="0.1700" stop-color="#2838ff"/><stop offset="0.3000" stop-color="#7078ff"/><stop offset="0.4200" stop-color="#d0d0ff"/><stop offset="0.5000" stop-color="#ffffff"/><stop offset="0.5800" stop-color="#ffd8e8"/><stop offset="0.7000" stop-color="#ff88b0"/><stop offset="0.8200" stop-color="#ff3060"/><stop offset="0.9200" stop-color="#ff0820"/><stop offset="1.0000" stop-color="#ff0000"/></linearGradient></defs>
</g>
</svg>
</body></html>
